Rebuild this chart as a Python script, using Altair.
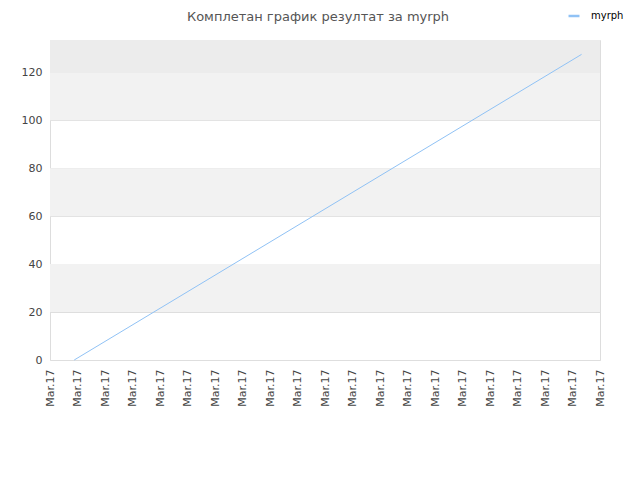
import altair as alt
import pandas as pd

title_text = "Комплетан график резултат за myrph"
series_name = "myrph"
# x positions in tick units (ticks labelled "Mar.17"), y = score
line_x = [0.88, 19.33]
line_y = [0, 127.5]
tick_values = list(range(0, 21))
tick_label = "Mar.17"
band_lo = [20, 60, 100, 120]
band_hi = [40, 80, 120, 133.5]
band_col = ["#f2f2f2", "#f2f2f2", "#f2f2f2", "#ececec"]

line_df = pd.DataFrame({"x": line_x, "y": line_y, "s": [series_name] * len(line_x)})
band_df = pd.DataFrame({"lo": band_lo, "hi": band_hi, "c": band_col})

xs = alt.Scale(domain=[0, 20], nice=False, zero=False)
ys = alt.Scale(domain=[0, 133.5], nice=False)

bands = alt.Chart(band_df).mark_rect().encode(
    y=alt.Y("lo:Q", scale=ys),
    y2="hi:Q",
    color=alt.Color("c:N", scale=None),
)

line = alt.Chart(line_df).mark_line(strokeWidth=1).encode(
    x=alt.X("x:Q", scale=xs,
            axis=alt.Axis(values=tick_values, labelExpr="'" + tick_label + "'",
                          labelAngle=270, labelAlign="right", labelBaseline="middle",
                          labelPadding=9, ticks=False, domain=False, grid=False,
                          labelFont="DejaVu Sans", labelFontSize=11, labelColor="#444",
                          title=None, labelOverlap=False, labelBound=False, labelFlush=False)),
    y=alt.Y("y:Q", scale=ys,
            axis=alt.Axis(values=[0, 20, 40, 60, 80, 100, 120], ticks=False, domain=False,
                          grid=True, gridColor="#dedede", labelPadding=8,
                          labelFont="DejaVu Sans", labelFontSize=11, labelColor="#444",
                          title=None)),
    color=alt.Color("s:N", scale=alt.Scale(range=["#90c2f5"]),
                    legend=alt.Legend(title=None, orient="none", legendX=517, legendY=-31,
                                      symbolType="stroke", symbolSize=120, symbolStrokeWidth=2.5,
                                      labelOffset=10,
                                      labelFont="DejaVu Sans", labelFontSize=10,
                                      labelColor="#000", padding=0)),
)

chart = alt.layer(bands, line).properties(
    width=550, height=320,
    padding={"left": 42, "top": 32, "right": 32, "bottom": 112},
    autosize=alt.AutoSizeParams(type="none"),
    title=alt.TitleParams(title_text, anchor="middle", font="DejaVu Sans", fontSize=13,
                          fontWeight="normal", color="#555", offset=-15, dx=-7),
).configure_view(stroke="#dddddd", strokeWidth=1).configure(background="white")

chart.save("out.html", embed_options={"renderer": "svg", "actions": False})
